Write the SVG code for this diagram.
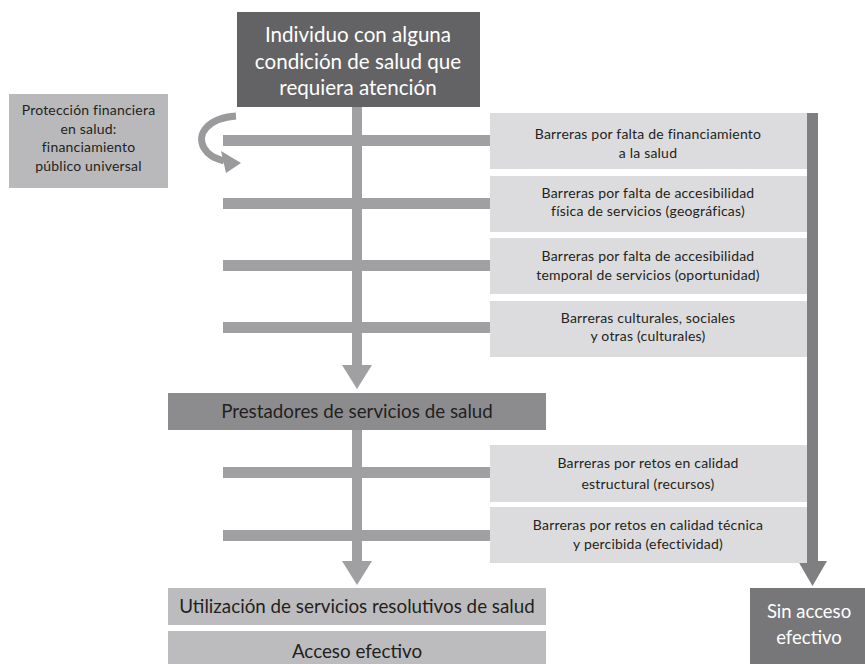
<svg xmlns="http://www.w3.org/2000/svg" width="865" height="664" viewBox="0 0 865 664">
<style>
text{font-family:Lato,"Open Sans","Liberation Sans",sans-serif;text-anchor:middle}
.sm{font-size:14px;letter-spacing:0.2px;fill:#231f20}
.md{font-size:18.8px;fill:#231f20}
.wt{fill:#ffffff}
.bar{fill:#a0a0a3}
.light{fill:#dcdcde}
</style>
<rect width="865" height="664" fill="#ffffff"/>
<g id="connectors">
  <rect class="bar" x="223" y="135" width="268" height="11"/>
  <rect class="bar" x="223" y="198" width="268" height="11"/>
  <rect class="bar" x="223" y="260" width="268" height="11"/>
  <rect class="bar" x="223" y="322" width="268" height="11"/>
  <rect class="bar" x="223" y="467" width="268" height="11"/>
  <rect class="bar" x="223" y="530" width="268" height="11"/>
  <rect class="bar" x="352" y="107" width="10" height="259"/>
  <polygon class="bar" points="342,365 372,365 357,389"/>
  <rect class="bar" x="352" y="430" width="10" height="132"/>
  <polygon class="bar" points="342,561 372,561 357,585"/>
  <rect x="807" y="113" width="11" height="449" fill="#7f7f82"/>
  <polygon points="798,561 827,561 812.5,586" fill="#7f7f82"/>
  <path d="M236,116 C208,118 196,134 204,148 C208,155 214,158 224,161" fill="none" stroke="#9a9a9d" stroke-width="7"/>
  <polygon points="221,151 241,163 226,173" fill="#9a9a9d"/>
</g>
<g id="n-individuo">
  <rect x="237" y="12" width="243" height="95" fill="#636365"/>
  <text class="wt" x="358" y="42" font-size="20.6">Individuo con alguna</text>
  <text class="wt" x="358" y="68.5" font-size="20.6">condición de salud que</text>
  <text class="wt" x="358" y="95" font-size="20.6">requiera atención</text>
</g>
<g id="n-proteccion">
  <rect x="9" y="94" width="159" height="94" fill="#b9b9bb"/>
  <text class="sm" x="88.5" y="115">Protección financiera</text>
  <text class="sm" x="88.5" y="133.5">en salud:</text>
  <text class="sm" x="88.5" y="152">financiamiento</text>
  <text class="sm" x="88.5" y="170.5">público universal</text>
</g>
<g id="n-b1">
  <rect class="light" x="490" y="113" width="317" height="56"/>
  <text class="sm" x="648" y="138.5">Barreras por falta de financiamiento</text>
  <text class="sm" x="648" y="157.5">a la salud</text>
</g>
<g id="n-b2">
  <rect class="light" x="490" y="176" width="317" height="56"/>
  <text class="sm" x="648" y="197.5">Barreras por falta de accesibilidad</text>
  <text class="sm" x="648" y="216">física de servicios (geográficas)</text>
</g>
<g id="n-b3">
  <rect class="light" x="490" y="238" width="317" height="56"/>
  <text class="sm" x="648" y="261">Barreras por falta de accesibilidad</text>
  <text class="sm" x="648" y="279.5">temporal de servicios (oportunidad)</text>
</g>
<g id="n-b4">
  <rect class="light" x="490" y="301" width="317" height="56"/>
  <text class="sm" x="648" y="322.5">Barreras culturales, sociales</text>
  <text class="sm" x="648" y="341">y otras (culturales)</text>
</g>
<g id="n-prestadores">
  <rect x="168" y="393" width="378" height="37" fill="#8c8c8f"/>
  <text class="md" x="357" y="418">Prestadores de servicios de salud</text>
</g>
<g id="n-b5">
  <rect class="light" x="490" y="445" width="317" height="57"/>
  <text class="sm" x="648" y="467.5">Barreras por retos en calidad</text>
  <text class="sm" x="648" y="489">estructural (recursos)</text>
</g>
<g id="n-b6">
  <rect class="light" x="490" y="507" width="317" height="56"/>
  <text class="sm" x="648" y="530">Barreras por retos en calidad técnica</text>
  <text class="sm" x="648" y="549">y percibida (efectividad)</text>
</g>
<g id="n-utilizacion">
  <rect x="168" y="588" width="378" height="37" fill="#bcbcbe"/>
  <text class="md" x="357" y="612.5">Utilización de servicios resolutivos de salud</text>
</g>
<g id="n-acceso">
  <rect x="168" y="631" width="378" height="33" fill="#bcbcbe"/>
  <text class="md" x="357" y="657.5">Acceso efectivo</text>
</g>
<g id="n-sin-acceso">
  <rect x="750" y="588" width="115" height="76" fill="#77777a"/>
  <text class="wt" x="809" y="618" font-size="18.5">Sin acceso</text>
  <text class="wt" x="809" y="644" font-size="18.5">efectivo</text>
</g>
</svg>
